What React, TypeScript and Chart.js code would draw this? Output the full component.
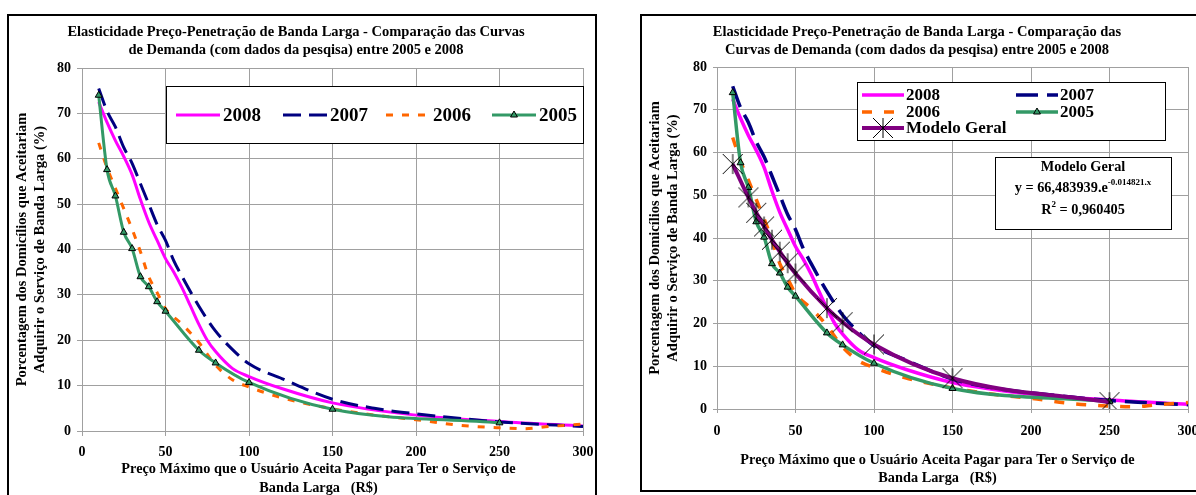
import React, { useEffect, useRef } from 'react';
import { Chart, registerables } from 'chart.js';

Chart.register(...registerables);

const SERIF = '"Liberation Serif", "Times New Roman", serif';

// ---- data ----
const x2008 = [10, 15, 20, 25, 30, 35, 40, 45, 50, 55, 60, 65, 70, 75, 80, 90, 100, 120, 150, 200, 250, 300];
const y2008 = [72.5, 68, 64, 60.5, 56.5, 51, 46, 42, 38, 35, 31.5, 27.5, 23.5, 20, 17.5, 13.8, 12, 9.3, 6.2, 3.5, 2.1, 1.1];
const x2007 = [10, 15, 20, 25, 30, 35, 40, 45, 50, 55, 60, 70, 80, 90, 100, 120, 150, 175, 200, 250, 300];
const y2007 = [75.5, 70.5, 67, 62.5, 59, 54.5, 50, 45.5, 42, 37.5, 34, 27.5, 22, 18, 14.8, 11.5, 7, 5, 3.8, 2, 1];
const x2006 = [10, 15, 20, 25, 30, 35, 40, 45, 50, 60, 70, 80, 90, 100, 120, 150, 175, 200, 225, 250, 265, 280, 300];
const y2006 = [63.5, 58, 53.5, 49, 44.5, 39.5, 34, 30.5, 27, 23.5, 19.5, 14.5, 11.3, 9.7, 7.3, 4.9, 3.5, 2.5, 1.3, 0.7, 0.5, 1, 1.5];
const x2005 = [10, 15, 20, 25, 30, 35, 40, 45, 50, 70, 80, 100, 150, 250];
const y2005 = [74, 57.6, 51.8, 43.8, 40.2, 34, 31.8, 28.5, 26.4, 17.8, 15, 10.7, 4.8, 1.8];
const xModel = [10, 20, 25, 30, 35, 40, 45, 50, 70, 80, 100, 150, 250];
const yModel = [57.3, 49.5, 45.9, 42.7, 39.6, 36.8, 34.1, 31.7, 23.6, 20.3, 15.1, 7.2, 1.6];

const seriesLabels = ['2008', '2007', '2006', '2005', 'Modelo Geral'];

const titleLeft = [
  'Elasticidade Preço-Penetração de Banda Larga - Comparação das Curvas',
  'de Demanda (com dados da pesqisa) entre 2005 e 2008',
];
const titleRight = [
  'Elasticidade Preço-Penetração de Banda Larga - Comparação das',
  'Curvas de Demanda (com dados da pesqisa) entre 2005 e 2008',
];
const yTitle = ['Porcentagem dos Domicílios que Aceitariam', 'Adquirir o Serviço de Banda Larga (%)'];
const xTitle = ['Preço Máximo que o Usuário Aceita Pagar para Ter o Serviço de', 'Banda Larga   (R$)'];
const modelBoxTitle = 'Modelo Geral';
const modelEqMain = 'y = 66,483939.e';
const modelEqExp = '-0.014821.x';
const modelR2 = ['R', '2', ' = 0,960405'];

const pts = (xs: number[], ys: number[]) => xs.map((x, i) => ({ x, y: ys[i] }));

function makeStar(r: number): HTMLCanvasElement {
  const size = 2 * r + 2;
  const c = document.createElement('canvas');
  c.width = size;
  c.height = size;
  const g = c.getContext('2d')!;
  const m = size / 2;
  g.strokeStyle = '#000';
  g.lineWidth = 1;
  g.beginPath();
  g.moveTo(m - r, m - r); g.lineTo(m + r, m + r);
  g.moveTo(m - r, m + r); g.lineTo(m + r, m - r);
  g.moveTo(m, m - r); g.lineTo(m, m + r);
  g.stroke();
  return c;
}

function drawMarker(ctx: CanvasRenderingContext2D, ds: any, x: number, y: number) {
  if (!ds.pointRadius) return;
  const ps = ds.pointStyle;
  if (ps && typeof ps === 'object') {
    ctx.drawImage(ps, x - ps.width / 2, y - ps.height / 2);
    return;
  }
  if (ps === 'triangle') {
    const r = ds.pointRadius;
    ctx.save();
    ctx.beginPath();
    ctx.moveTo(x, y - r);
    ctx.lineTo(x + r * 0.866, y + r * 0.5);
    ctx.lineTo(x - r * 0.866, y + r * 0.5);
    ctx.closePath();
    ctx.fillStyle = ds.pointBackgroundColor;
    ctx.fill();
    ctx.lineWidth = ds.pointBorderWidth;
    ctx.strokeStyle = ds.pointBorderColor;
    ctx.stroke();
    ctx.restore();
  }
}

const overlayPlugin = {
  id: 'overlay',
  afterDraw(chart: any, _args: any, opts: any) {
    const { ctx, chartArea } = chart;
    ctx.save();
    ctx.fillStyle = '#000';
    ctx.textBaseline = 'middle';
    // x axis title
    if (opts.xTitle) {
      const t = opts.xTitle;
      ctx.font = `bold ${t.size}px ${SERIF}`;
      ctx.textAlign = 'center';
      const cx = (chartArea.left + chartArea.right) / 2 + t.dx;
      t.lines.forEach((s: string, i: number) => ctx.fillText(s, cx, chartArea.bottom + t.dy + i * t.lh));
    }
    // legend box
    if (opts.legend) {
      const lg = opts.legend;
      const [bx, by, bw, bh] = lg.box;
      ctx.fillStyle = '#fff';
      ctx.fillRect(bx, by, bw, bh);
      ctx.strokeStyle = '#000';
      ctx.lineWidth = 1;
      ctx.strokeRect(bx + 0.5, by + 0.5, bw, bh);
      lg.items.forEach((it: number[], i: number) => {
        const ds = chart.data.datasets[i];
        ctx.save();
        ctx.strokeStyle = ds.borderColor;
        ctx.lineWidth = ds.borderWidth;
        ctx.setLineDash(ds.borderDash || []);
        ctx.beginPath();
        ctx.moveTo(it[0], it[1]);
        ctx.lineTo(it[0] + lg.sample, it[1]);
        ctx.stroke();
        ctx.restore();
        drawMarker(ctx, ds, it[0] + lg.sample / 2, it[1]);
        ctx.fillStyle = '#000';
        ctx.font = `bold ${lg.size}px ${SERIF}`;
        ctx.textAlign = 'left';
        ctx.fillText(ds.label, it[0] + lg.sample + lg.gap, it[1] + 1);
      });
    }
    // model box
    if (opts.model) {
      const mb = opts.model;
      const [bx, by, bw, bh] = mb.box;
      ctx.fillStyle = '#fff';
      ctx.fillRect(bx, by, bw, bh);
      ctx.strokeStyle = '#000';
      ctx.lineWidth = 1;
      ctx.strokeRect(bx + 0.5, by + 0.5, bw, bh);
      const cx = bx + bw / 2;
      const big = `bold ${mb.size}px ${SERIF}`;
      const small = `bold ${mb.supSize}px ${SERIF}`;
      ctx.fillStyle = '#000';
      ctx.font = big;
      ctx.textAlign = 'center';
      ctx.fillText(modelBoxTitle, cx, mb.ys[0]);
      ctx.textAlign = 'left';
      ctx.font = big;
      const w1 = ctx.measureText(modelEqMain).width;
      ctx.font = small;
      const w2 = ctx.measureText(modelEqExp).width;
      let sx = cx - (w1 + w2) / 2;
      ctx.font = big;
      ctx.fillText(modelEqMain, sx, mb.ys[1]);
      ctx.font = small;
      ctx.fillText(modelEqExp, sx + w1, mb.ys[1] - 5);
      ctx.font = big;
      const a = ctx.measureText(modelR2[0]).width;
      const c = ctx.measureText(modelR2[2]).width;
      ctx.font = small;
      const b = ctx.measureText(modelR2[1]).width;
      sx = cx - (a + b + c) / 2;
      ctx.font = big;
      ctx.fillText(modelR2[0], sx, mb.ys[2]);
      ctx.font = small;
      ctx.fillText(modelR2[1], sx + a, mb.ys[2] - 5);
      ctx.font = big;
      ctx.fillText(modelR2[2], sx + a + b, mb.ys[2]);
    }
    ctx.restore();
  },
};

interface Spec {
  width: number;
  height: number;
  title: string[];
  titlePad: { top: number; bottom: number };
  lw: number;
  dash07: number[];
  dash06: number[];
  withModel: boolean;
  yWidth: number;
  xHeight: number;
  yTick: { len: number; pad: number };
  xTick: { len: number; pad: number };
  padRight: number;
  overlay: any;
}

function buildConfig(s: Spec): any {
  const datasets: any[] = [
    { label: seriesLabels[0], data: pts(x2008, y2008), borderColor: '#FF00FF', borderWidth: s.lw, pointRadius: 0, order: 4 },
    { label: seriesLabels[1], data: pts(x2007, y2007), borderColor: '#000080', borderWidth: s.lw, borderDash: s.dash07, pointRadius: 0, order: 3 },
    { label: seriesLabels[2], data: pts(x2006, y2006), borderColor: '#FF6600', borderWidth: s.lw, borderDash: s.dash06, pointRadius: 0, order: 2 },
    {
      label: seriesLabels[3], data: pts(x2005, y2005), borderColor: '#339966', borderWidth: s.lw,
      pointStyle: 'triangle', pointRadius: 4, pointBackgroundColor: '#339966', pointBorderColor: '#000', pointBorderWidth: 1, order: 1,
    },
  ];
  if (s.withModel) {
    datasets.push({
      label: seriesLabels[4], data: pts(xModel, yModel), borderColor: '#800080', borderWidth: s.lw + 0.5,
      pointStyle: makeStar(10), pointRadius: 10, order: 0,
    });
  }
  const grid = { color: '#a0a0a0', lineWidth: 1 };
  const tickFont = { family: SERIF, size: 14, weight: 'bold' };
  return {
    type: 'line',
    data: { datasets },
    plugins: [overlayPlugin],
    options: {
      responsive: false,
      animation: false,
      events: [],
      elements: { line: { cubicInterpolationMode: 'monotone', fill: false } },
      layout: { padding: { left: 0, top: 0, bottom: 0, right: s.padRight } },
      plugins: {
        legend: { display: false },
        tooltip: { enabled: false },
        title: {
          display: true,
          text: s.title,
          color: '#000',
          font: { family: SERIF, size: 14.5, weight: 'bold', lineHeight: 18 / 14.5 },
          padding: s.titlePad,
        },
        overlay: s.overlay,
      },
      scales: {
        x: {
          type: 'linear', min: 0, max: 300,
          ticks: { stepSize: 50, color: '#000', font: tickFont, padding: s.xTick.pad, maxRotation: 0 },
          grid: { ...grid, tickLength: s.xTick.len },
          border: { color: '#a0a0a0' },
          afterFit: (sc: any) => { sc.height = s.xHeight; sc.paddingLeft = 0; sc.paddingRight = 0; },
        },
        y: {
          type: 'linear', min: 0, max: 80,
          ticks: { stepSize: 10, color: '#000', font: tickFont, padding: s.yTick.pad },
          grid: { ...grid, tickLength: s.yTick.len },
          border: { color: '#a0a0a0' },
          title: {
            display: true, text: yTitle, color: '#000',
            font: { family: SERIF, size: 14.5, weight: 'bold', lineHeight: 18 / 14.5 },
            padding: { top: 4, bottom: 0 },
          },
          afterFit: (sc: any) => { sc.width = s.yWidth; sc.paddingTop = 0; sc.paddingBottom = 0; },
        },
      },
    },
  };
}

function ChartFrame({ left, top, spec }: { left: number; top: number; spec: Spec }) {
  const ref = useRef<HTMLCanvasElement>(null);
  useEffect(() => {
    const chart = new Chart(ref.current as HTMLCanvasElement, buildConfig(spec));
    return () => chart.destroy();
  }, []);
  return (
    <div style={{ position: 'absolute', left, top, border: '2px solid #000', width: spec.width, height: spec.height, background: '#fff' }}>
      <canvas ref={ref} width={spec.width} height={spec.height} style={{ display: 'block', width: spec.width, height: spec.height }} />
    </div>
  );
}

const leftSpec: Spec = {
  width: 586, height: 486,
  title: titleLeft, titlePad: { top: 7, bottom: 9 },
  lw: 3, dash07: [18, 8], dash06: [7, 9], withModel: false,
  yWidth: 73, xHeight: 71,
  yTick: { len: 5, pad: 6 }, xTick: { len: 5, pad: 8 },
  padRight: 12,
  overlay: {
    xTitle: { lines: xTitle, size: 14.3, dx: -14, dy: 38, lh: 19 },
    legend: { box: [157, 70, 417, 57], items: [[167, 99], [274, 99], [377, 99], [483, 99]], sample: 44, gap: 3, size: 19 },
  },
};

const rightSpec: Spec = {
  width: 560, height: 474,
  title: titleRight, titlePad: { top: 7, bottom: 8 },
  lw: 3.5, dash07: [22, 9], dash06: [10, 12], withModel: true,
  yWidth: 75, xHeight: 81,
  yTick: { len: 4, pad: 6 }, xTick: { len: 4, pad: 10 },
  padRight: 10,
  overlay: {
    xTitle: { lines: xTitle, size: 14.3, dx: -15, dy: 51, lh: 18 },
    legend: { box: [215, 66, 308, 58], items: [[220, 79], [374, 79], [220, 96], [374, 96], [220, 112]], sample: 42, gap: 2, size: 17 },
    model: { box: [353, 141, 176, 72], size: 14.3, supSize: 9, ys: [151, 172, 194] },
  },
};

export default function App() {
  return (
    <div style={{ position: 'absolute', left: 0, top: 0, width: 1196, height: 495, overflow: 'hidden', background: '#fff' }}>
      <ChartFrame left={7} top={14} spec={leftSpec} />
      <ChartFrame left={640} top={14} spec={rightSpec} />
    </div>
  );
}
